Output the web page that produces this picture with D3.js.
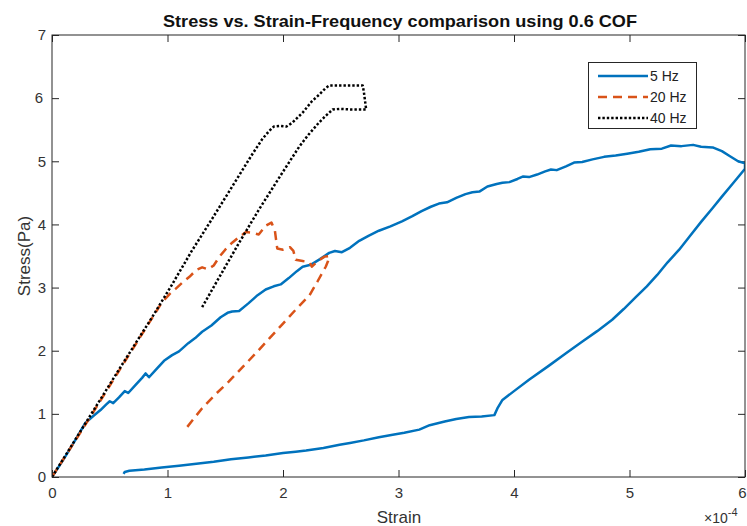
<!DOCTYPE html>
<html>
<head>
<meta charset="utf-8">
<script src="https://cdn.jsdelivr.net/npm/d3@7"></script>
<style>
	body { margin: 0; background: #fff; }
	svg { display: block; font-family: "Liberation Sans", Arial, Helvetica, sans-serif; }
	.tick text { fill: #333; }
</style>
</head>
<body>
<svg id="chart" width="747" height="526"></svg>
<script>
// strain values are in units of 1e-4
var strain5 = [0, 0.10, 0.20, 0.29, 0.36, 0.42, 0.47, 0.50, 0.53, 0.58, 0.63, 0.66, 0.72, 0.78, 0.81, 0.84, 0.90, 0.97,
	1.04, 1.10, 1.18, 1.24, 1.30, 1.38, 1.46, 1.52, 1.56, 1.62, 1.70, 1.78, 1.85, 1.92, 1.98, 2.05, 2.12, 2.17, 2.24,
	2.32, 2.40, 2.45, 2.51, 2.58, 2.66, 2.74, 2.83, 2.93, 3.03, 3.12, 3.20, 3.28, 3.35, 3.42, 3.50, 3.58, 3.64, 3.70,
	3.77, 3.85, 3.90, 3.96, 4.03, 4.08, 4.13, 4.20, 4.27, 4.32, 4.37, 4.45, 4.52, 4.59, 4.68, 4.78, 4.88, 4.98, 5.08,
	5.18, 5.28, 5.36, 5.45, 5.55, 5.62, 5.72, 5.80, 5.87, 5.94, 6.00,
	6.00, 5.90, 5.80, 5.72, 5.62, 5.52, 5.43, 5.33, 5.24, 5.15, 5.05, 4.95, 4.85, 4.72, 4.58, 4.45, 4.30, 4.13, 4.00,
	3.90, 3.86, 3.83, 3.72, 3.61, 3.50, 3.40, 3.27, 3.18, 3.05, 2.95, 2.83, 2.70, 2.58, 2.49, 2.35, 2.20, 2.11, 2.00,
	1.85, 1.70, 1.55, 1.40, 1.25, 1.10, 0.95, 0.80, 0.67, 0.63, 0.62];
var stress5 = [0, 0.28, 0.58, 0.86, 0.97, 1.06, 1.15, 1.20, 1.17, 1.26, 1.36, 1.33, 1.45, 1.57, 1.64, 1.58, 1.70, 1.84,
	1.93, 1.99, 2.12, 2.20, 2.30, 2.40, 2.53, 2.60, 2.62, 2.63, 2.75, 2.88, 2.97, 3.02, 3.05, 3.15, 3.26, 3.33, 3.36,
	3.45, 3.55, 3.58, 3.56, 3.63, 3.74, 3.82, 3.90, 3.97, 4.05, 4.13, 4.21, 4.28, 4.33, 4.35, 4.42, 4.48, 4.51, 4.52,
	4.60, 4.64, 4.66, 4.67, 4.72, 4.76, 4.75, 4.79, 4.84, 4.87, 4.86, 4.92, 4.98, 4.99, 5.03, 5.07, 5.09, 5.12, 5.15,
	5.19, 5.20, 5.25, 5.24, 5.26, 5.23, 5.22, 5.16, 5.08, 5.00, 4.97,
	4.88, 4.66, 4.44, 4.26, 4.04, 3.81, 3.60, 3.40, 3.20, 3.02, 2.84, 2.66, 2.49, 2.31, 2.13, 1.96, 1.76, 1.54, 1.36,
	1.22, 1.10, 0.98, 0.96, 0.95, 0.92, 0.88, 0.82, 0.75, 0.70, 0.67, 0.63, 0.58, 0.54, 0.51, 0.46, 0.42, 0.40, 0.38,
	0.34, 0.31, 0.28, 0.24, 0.21, 0.18, 0.15, 0.12, 0.10, 0.08, 0.05];

var strain20 = [0, 0.30, 0.60, 0.95, 1.02, 1.07, 1.13, 1.19, 1.25, 1.30, 1.35, 1.40, 1.45, 1.50, 1.56, 1.62, 1.68, 1.73,
	1.79, 1.85, 1.90, 1.93, 1.95, 2.00, 2.06, 2.09, 2.11, 2.17, 2.23, 2.25, 2.30, 2.36, 2.40, 2.39, 2.37, 2.30, 2.23,
	2.11, 1.99, 1.88, 1.77, 1.65, 1.53, 1.41, 1.30, 1.17];
var stress20 = [0, 0.86, 1.74, 2.76, 2.90, 2.98, 3.08, 3.17, 3.28, 3.32, 3.29, 3.35, 3.49, 3.60, 3.71, 3.80, 3.88, 3.87,
	3.84, 3.98, 4.03, 3.90, 3.62, 3.60, 3.64, 3.58, 3.44, 3.42, 3.40, 3.33, 3.42, 3.49, 3.50, 3.42, 3.33, 3.10, 2.88,
	2.65, 2.41, 2.19, 1.97, 1.74, 1.51, 1.30, 1.09, 0.79];

var strain40 = [0, 0.30, 0.60, 0.87, 1.04, 1.21, 1.39, 1.56, 1.73, 1.82, 1.88, 1.92, 1.98, 2.03, 2.08, 2.13, 2.17, 2.21,
	2.25, 2.31, 2.37, 2.40, 2.55, 2.69, 2.70, 2.72, 2.66, 2.60, 2.49, 2.43, 2.37, 2.31, 2.22, 2.14, 1.97, 1.79, 1.62,
	1.45, 1.30];
var stress40 = [0, 0.88, 1.76, 2.54, 3.05, 3.58, 4.10, 4.60, 5.10, 5.35, 5.48, 5.55, 5.56, 5.55, 5.61, 5.70, 5.77, 5.86,
	5.95, 6.05, 6.16, 6.20, 6.20, 6.20, 6.10, 5.82, 5.82, 5.82, 5.83, 5.82, 5.72, 5.61, 5.42, 5.23, 4.75, 4.23, 3.71,
	3.17, 2.69];

var xTicks = [0, 1, 2, 3, 4, 5, 6];
var yTicks = [0, 1, 2, 3, 4, 5, 6, 7];
var seriesNames = ["5 Hz", "20 Hz", "40 Hz"];

var svg = d3.select("#chart");
var margin = {left: 52, right: 2, top: 35, bottom: 49};
var width = 747 - margin.left - margin.right;
var height = 526 - margin.top - margin.bottom;

var x = d3.scaleLinear().domain([0, 6]).range([0, width]);
var y = d3.scaleLinear().domain([0, 7]).range([height, 0]);
var fmt = d3.format("d");

var series = [
	{name: seriesNames[0], xs: strain5, ys: stress5, color: "#0072BD", dash: null},
	{name: seriesNames[1], xs: strain20, ys: stress20, color: "#D95319", dash: "9,6"},
	{name: seriesNames[2], xs: strain40, ys: stress40, color: "#000000", dash: "2.4,2"}
];

svg.append("defs").append("clipPath")
	.attr("id", "plot-clip")
	.append("rect")
	.attr("width", width)
	.attr("height", height);

var g = svg.append("g")
	.attr("transform", "translate(" + margin.left + "," + margin.top + ")");

// Axes (ticks pointing inward, like MATLAB)
g.append("g")
	.attr("transform", "translate(0," + height + ")")
	.call(d3.axisBottom(x).tickValues(xTicks).tickFormat(fmt).tickSize(-7).tickSizeOuter(0).tickPadding(10))
	.call(styleAxis);

g.append("g")
	.call(d3.axisTop(x).tickValues(xTicks).tickSize(-7).tickSizeOuter(0).tickFormat(""))
	.call(styleAxis);

g.append("g")
	.call(d3.axisLeft(y).tickValues(yTicks).tickFormat(fmt).tickSize(-7).tickSizeOuter(0).tickPadding(6))
	.call(styleAxis);

g.append("g")
	.attr("transform", "translate(" + width + ",0)")
	.call(d3.axisRight(y).tickValues(yTicks).tickSize(-7).tickSizeOuter(0).tickFormat(""))
	.call(styleAxis);

function styleAxis(sel) {
	sel.select(".domain").remove();
	sel.selectAll(".tick line").attr("stroke", "#262626");
	sel.selectAll(".tick text").style("font-size", "15px");
}

// keep the last x label inside the window, as in the original
g.selectAll(".tick text")
	.filter(function(d) { return d === 6 && this.textContent === "6"; })
	.attr("dx", "-3");

var line = d3.line()
	.x(function(d) { return x(d[0]); })
	.y(function(d) { return y(d[1]); });

g.append("g")
	.attr("clip-path", "url(#plot-clip)")
	.selectAll("path")
	.data(series)
	.enter()
	.append("path")
	.attr("fill", "none")
	.attr("stroke", function(d) { return d.color; })
	.attr("stroke-width", 2.5)
	.attr("stroke-linejoin", "round")
	.attr("stroke-dasharray", function(d) { return d.dash; })
	.attr("d", function(d) {
		return line(d.xs.map(function(v, i) { return [v, d.ys[i]]; }));
	});

// Box
g.append("rect")
	.attr("width", width)
	.attr("height", height)
	.attr("fill", "none")
	.attr("stroke", "#262626")
	.attr("stroke-width", 1);

// Title and labels
svg.append("text")
	.attr("x", 400)
	.attr("y", 27)
	.attr("text-anchor", "middle")
	.attr("textLength", 474)
	.attr("lengthAdjust", "spacingAndGlyphs")
	.style("font-size", "17px")
	.style("font-weight", "bold")
	.attr("fill", "#111")
	.text("Stress vs. Strain-Frequency comparison using 0.6 COF");

svg.append("text")
	.attr("x", 399)
	.attr("y", 523)
	.attr("text-anchor", "middle")
	.style("font-size", "17px")
	.attr("fill", "#333")
	.text("Strain");

svg.append("text")
	.attr("transform", "translate(30,256) rotate(-90)")
	.attr("text-anchor", "middle")
	.style("font-size", "17px")
	.attr("fill", "#333")
	.text("Stress(Pa)");

var expo = svg.append("text")
	.attr("x", 704)
	.attr("y", 523)
	.style("font-size", "14px")
	.attr("fill", "#333");
expo.append("tspan").text("\u00d710");
expo.append("tspan").attr("dy", -7).style("font-size", "11px").text("-4");

// Legend
var legend = svg.append("g").attr("class", "legend");
legend.append("rect")
	.attr("x", 588.5)
	.attr("y", 62.5)
	.attr("width", 108)
	.attr("height", 66)
	.attr("fill", "#fff")
	.attr("stroke", "#262626")
	.attr("stroke-width", 1);

var items = legend.selectAll("g.item")
	.data(series)
	.enter()
	.append("g")
	.attr("class", "item")
	.attr("transform", function(d, i) { return "translate(598," + (76 + i * 21) + ")"; });

items.append("line")
	.attr("x1", 0)
	.attr("x2", 50)
	.attr("stroke", function(d) { return d.color; })
	.attr("stroke-width", 2.5)
	.attr("stroke-dasharray", function(d) { return d.dash; });

items.append("text")
	.attr("x", 52)
	.attr("dy", "0.35em")
	.style("font-size", "14px")
	.attr("fill", "#222")
	.text(function(d) { return d.name; });
</script>
</body>
</html>
